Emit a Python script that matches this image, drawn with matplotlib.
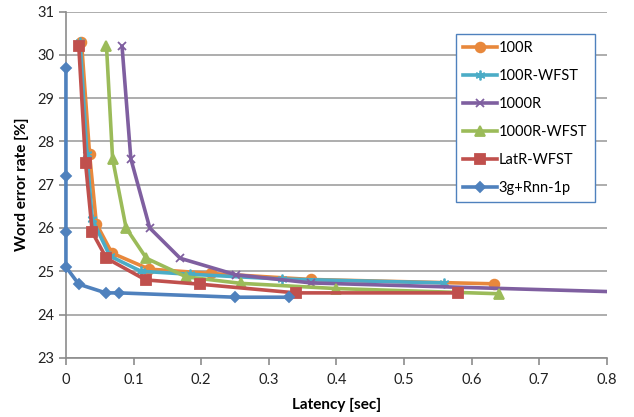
import matplotlib
matplotlib.use("Agg")
import matplotlib.pyplot as plt

# data
r100_x = [0.023, 0.035, 0.045, 0.068, 0.123, 0.214, 0.362, 0.633]
r100_y = [30.3, 27.7, 26.1, 25.42, 25.05, 24.95, 24.81, 24.71]

r100w_x = [0.021, 0.031, 0.039, 0.065, 0.111, 0.184, 0.319, 0.56]
r100w_y = [30.3, 27.7, 26.2, 25.35, 25.0, 24.93, 24.82, 24.73]

r1000_x = [0.083, 0.096, 0.124, 0.169, 0.251, 0.363, 1.0]
r1000_y = [30.2, 27.6, 26.0, 25.3, 24.92, 24.73, 24.44]

r1000w_x = [0.06, 0.069, 0.089, 0.119, 0.178, 0.259, 0.4, 0.641]
r1000w_y = [30.2, 27.6, 26.0, 25.3, 24.87, 24.72, 24.6, 24.48]

latr_x = [0.019, 0.029, 0.039, 0.06, 0.118, 0.199, 0.34, 0.58]
latr_y = [30.2, 27.5, 25.9, 25.3, 24.8, 24.7, 24.5, 24.5]

rnn_x = [0.0, 0.0, 0.0, 0.0, 0.019, 0.059, 0.079, 0.25, 0.33]
rnn_y = [29.7, 27.2, 25.9, 25.1, 24.7, 24.5, 24.5, 24.4, 24.4]

x_ticks = [0, 0.1, 0.2, 0.3, 0.4, 0.5, 0.6, 0.7, 0.8]
y_ticks = [23, 24, 25, 26, 27, 28, 29, 30, 31]

plt.rcParams['font.family'] = ['Lato', 'DejaVu Sans']

fig = plt.figure(figsize=(6.34, 4.17), dpi=100)
ax = fig.add_axes([0.104, 0.142, 0.853, 0.83])

series = [
    (r100_x, r100_y, "100R", "#E8883C", "o", 7),
    (r100w_x, r100w_y, "100R-WFST", "#4BACC6", (6, 2, 0), 7),
    (r1000_x, r1000_y, "1000R", "#7F5FA0", "x", 6),
    (r1000w_x, r1000w_y, "1000R-WFST", "#9BBB59", "^", 7),
    (latr_x, latr_y, "LatR-WFST", "#C0504D", "s", 7),
    (rnn_x, rnn_y, "3g+Rnn-1p", "#4F81BD", "D", 5),
]

for xs, ys, name, col, mk, ms in series:
    clip = name != "3g+Rnn-1p"
    ax.plot(xs, ys, color=col, lw=2.6, marker=mk, ms=ms, mec=col, mfc=col,
            mew=1.3, label=name, clip_on=clip, zorder=3)

ax.set_xlim(0, 0.8)
ax.set_ylim(23, 31)
ax.set_xticks(x_ticks)
ax.set_xticklabels([str(t) if t else "0" for t in x_ticks])
ax.set_yticks(y_ticks)
ax.yaxis.grid(True, color="#A0A0A0", lw=1.2)
ax.set_axisbelow(True)

for s in ["top", "right"]:
    ax.spines[s].set_visible(False)
for s in ["left", "bottom"]:
    ax.spines[s].set_color("#8C8C8C")
    ax.spines[s].set_linewidth(1.2)
ax.tick_params(axis="both", colors="#8C8C8C", labelcolor="#222222",
               labelsize=10.5, length=5, width=1.2)
ax.tick_params(axis="x", pad=6)

ax.set_xlabel("Latency [sec]", fontsize=11, fontweight="bold", labelpad=8)
ax.set_ylabel("Word error rate [%]", fontsize=11, fontweight="bold", labelpad=6)

leg = ax.legend(loc="upper left", bbox_to_anchor=(0.721, 0.935), fontsize=10.5,
                frameon=True, fancybox=False, borderpad=0.5, labelspacing=0.95,
                handlelength=2.3, handletextpad=0.15, borderaxespad=0)
leg.get_frame().set_edgecolor("#4F81BD")
leg.get_frame().set_linewidth(1.0)
leg.get_frame().set_alpha(1)

fig.savefig("out.png", dpi=100)
